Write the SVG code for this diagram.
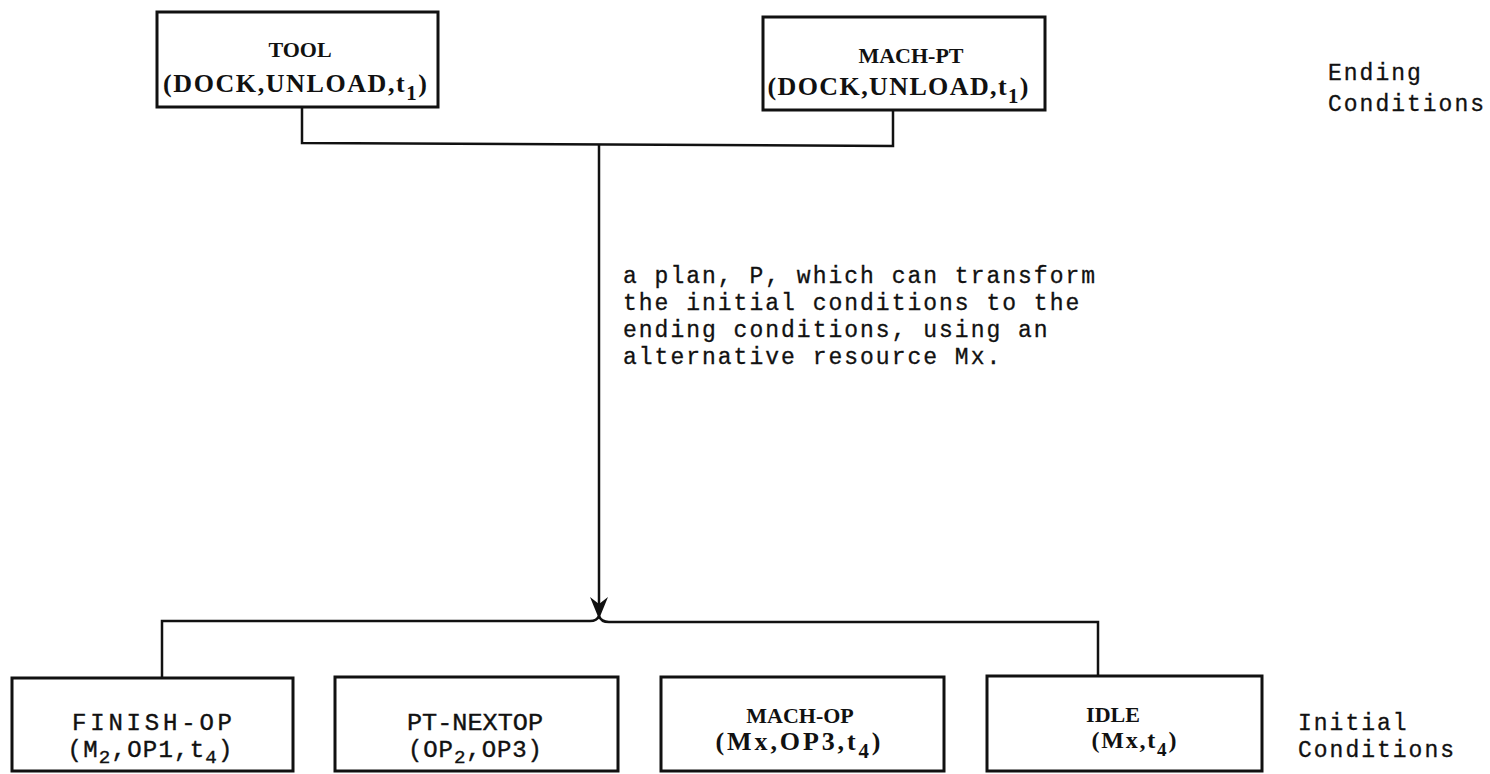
<svg xmlns="http://www.w3.org/2000/svg" width="1490" height="774" viewBox="0 0 1490 774">
<style>
.box{fill:#fff;stroke:#111;stroke-width:3}
.ln{fill:none;stroke:#111;stroke-width:2.5}
.serif{font-family:"Liberation Serif","Times New Roman",serif;font-weight:bold;font-size:22px;fill:#111;text-anchor:middle}
.big{font-size:26px}
.mono{font-family:"Liberation Mono","Courier New",monospace;font-size:24px;fill:#111;text-anchor:middle;stroke:#111;stroke-width:0.4}
.note{font-family:"Liberation Mono","Courier New",monospace;font-size:23px;letter-spacing:2px;fill:#111;stroke:#111;stroke-width:0.3}
.sub{font-size:0.8em}
</style>
<rect width="1490" height="774" fill="#fff"/>
<g id="connectors">
<path class="ln" d="M302,107 V143 L893,146 V110"/>
<path class="ln" d="M599,144 V604"/>
<path class="ln" d="M162,678 V621 H590 Q597,621 599,616 Q601,622 609,622 H1098 V676"/>
<polygon points="599,619 590,597 599,604 608,597" fill="#111"/>
</g>
<g id="tool">
<rect class="box" x="157" y="12" width="281" height="95"/>
<text class="serif" x="300" y="57">TOOL</text>
<text class="serif big" x="295" y="92" textLength="264" lengthAdjust="spacing">(DOCK,UNLOAD,t<tspan class="sub" dy="8">1</tspan><tspan dy="-8">)</tspan></text>
</g>
<g id="mach-pt">
<rect class="box" x="763" y="17" width="282" height="93"/>
<text class="serif" x="911" y="63">MACH-PT</text>
<text class="serif big" x="898" y="95" textLength="261" lengthAdjust="spacing">(DOCK,UNLOAD,t<tspan class="sub" dy="8">1</tspan><tspan dy="-8">)</tspan></text>
</g>
<g id="ending-label">
<text class="note" x="1328" y="80">Ending</text>
<text class="note" x="1328" y="111">Conditions</text>
</g>
<g id="plan-label">
<text class="note" x="623" y="283">a plan, P, which can transform</text>
<text class="note" x="623" y="310">the initial conditions to the</text>
<text class="note" x="623" y="337">ending conditions, using an</text>
<text class="note" x="623" y="364">alternative resource Mx.</text>
</g>
<g id="finish-op">
<rect class="box" x="12" y="678" width="281" height="93"/>
<text class="mono" x="152" y="730" textLength="160" lengthAdjust="spacing">FINISH-OP</text>
<text class="mono" x="150" y="757" textLength="165" lengthAdjust="spacing">(M<tspan class="sub" dy="6">2</tspan><tspan dy="-6">,OP1,t</tspan><tspan class="sub" dy="6">4</tspan><tspan dy="-6">)</tspan></text>
</g>
<g id="pt-nextop">
<rect class="box" x="335" y="677" width="283" height="94"/>
<text class="mono" x="475" y="730" textLength="136" lengthAdjust="spacingAndGlyphs">PT-NEXTOP</text>
<text class="mono" x="475" y="757" textLength="134" lengthAdjust="spacing">(OP<tspan class="sub" dy="6">2</tspan><tspan dy="-6">,OP3)</tspan></text>
</g>
<g id="mach-op">
<rect class="box" x="661" y="677" width="283" height="94"/>
<text class="serif" x="800" y="723">MACH-OP</text>
<text class="serif big" x="798" y="750" textLength="165" lengthAdjust="spacing">(Mx,OP3,t<tspan class="sub" dy="8">4</tspan><tspan dy="-8">)</tspan></text>
</g>
<g id="idle">
<rect class="box" x="987" y="676" width="275" height="95"/>
<text class="serif" x="1113" y="722">IDLE</text>
<text class="serif" x="1134" y="748" textLength="85" lengthAdjust="spacing" style="font-size:24px">(Mx,t<tspan class="sub" dy="8">4</tspan><tspan dy="-8">)</tspan></text>
</g>
<g id="initial-label">
<text class="note" x="1298" y="730">Initial</text>
<text class="note" x="1298" y="757">Conditions</text>
</g>
</svg>
